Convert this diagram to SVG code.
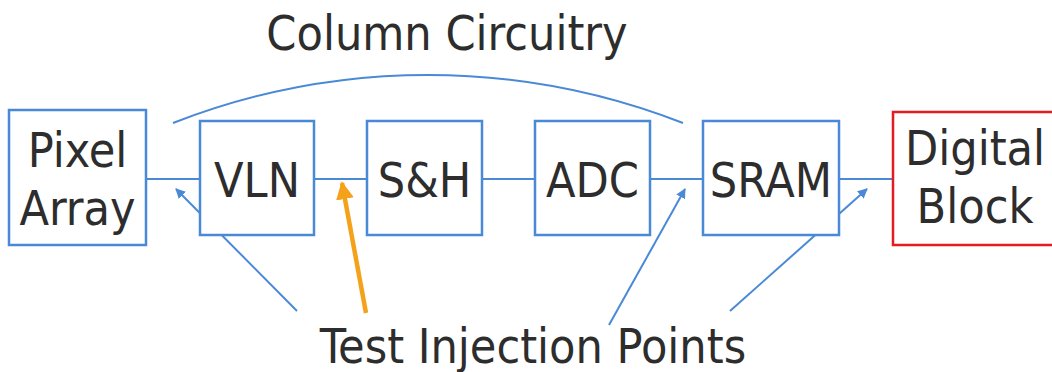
<svg xmlns="http://www.w3.org/2000/svg" width="1052" height="372" viewBox="0 0 1052 372">
  <style>
    .box { fill: #ffffff; stroke: #4a89d6; stroke-width: 2.5; }
    .red { fill: #ffffff; stroke: #e31b23; stroke-width: 2.5; }
    .lbl { font-family: "DejaVu Sans Condensed", "DejaVu Sans", sans-serif; font-stretch: condensed; font-size: 48px; fill: #2d2d2d; text-anchor: middle; }
    .wire { fill: none; stroke: #4a89d6; stroke-width: 2; }
    .inj { fill: none; stroke: #4a89d6; stroke-width: 2; marker-end: url(#ab); }
    .inj-o { fill: none; stroke: #f5a21b; stroke-width: 4.5; marker-end: url(#ao); }
  </style>
  <defs>
    <marker id="ab" viewBox="0 0 10 10" refX="9" refY="5" markerWidth="5" markerHeight="5" orient="auto" markerUnits="strokeWidth">
      <path d="M0,0 L10,5 L0,10 Z" fill="#4a89d6"/>
    </marker>
    <marker id="ao" viewBox="0 0 10 10" refX="9" refY="5" markerWidth="4" markerHeight="4" orient="auto" markerUnits="strokeWidth">
      <path d="M0,0 L10,5 L0,10 Z" fill="#f5a21b"/>
    </marker>
  </defs>

  <text class="lbl" x="447" y="50">Column Circuitry</text>
  <text class="lbl" x="533" y="363">Test Injection Points</text>

  <g id="connectors">
    <path class="wire" d="M173,123 A701,701 0 0 1 683,123"/>
    <line class="wire" x1="146" y1="179" x2="200" y2="179"/>
    <line class="wire" x1="314" y1="179" x2="367" y2="179"/>
    <line class="wire" x1="482" y1="179" x2="535" y2="179"/>
    <line class="wire" x1="650" y1="179" x2="703" y2="179"/>
    <line class="wire" x1="839" y1="179" x2="893" y2="179"/>
    <line class="inj" x1="297" y1="311" x2="176" y2="189"/>
    <line class="inj-o" x1="366" y1="313" x2="342" y2="183"/>
    <line class="inj" x1="609" y1="325" x2="685" y2="189"/>
    <line class="inj" x1="730" y1="311" x2="867" y2="189"/>
  </g>

  <g id="pixel-array">
    <rect class="box" x="9" y="110" width="137" height="135"/>
    <text class="lbl" x="77.5" y="167">Pixel</text>
    <text class="lbl" x="77.5" y="225">Array</text>
  </g>
  <g id="vln">
    <rect class="box" x="200" y="121" width="114" height="114"/>
    <text class="lbl" x="257" y="197">VLN</text>
  </g>
  <g id="sh">
    <rect class="box" x="367" y="121" width="115" height="114"/>
    <text class="lbl" x="424.5" y="197">S&amp;H</text>
  </g>
  <g id="adc">
    <rect class="box" x="535" y="121" width="115" height="114"/>
    <text class="lbl" x="592.5" y="197">ADC</text>
  </g>
  <g id="sram">
    <rect class="box" x="703" y="121" width="136" height="114"/>
    <text class="lbl" x="771" y="197">SRAM</text>
  </g>
  <g id="digital-block">
    <rect class="red" x="893" y="112" width="164" height="133"/>
    <text class="lbl" x="975" y="165">Digital</text>
    <text class="lbl" x="975" y="223">Block</text>
  </g>
</svg>
